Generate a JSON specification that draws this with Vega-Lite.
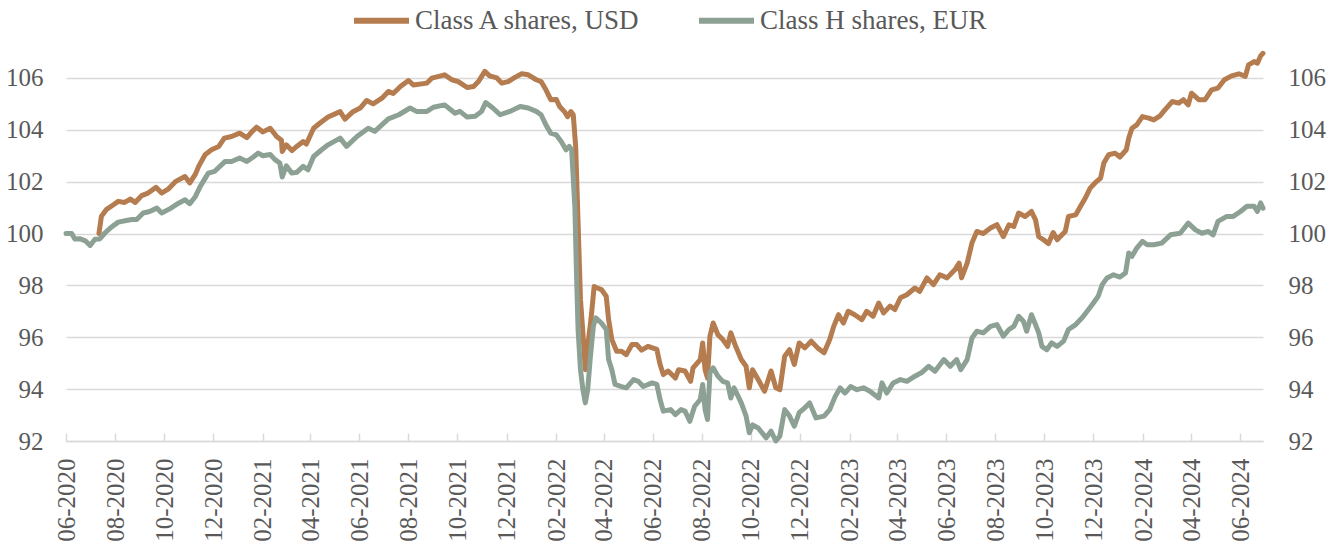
{
  "$schema": "https://vega.github.io/schema/vega-lite/v6.json",
  "width": 1197,
  "height": 389,
  "autosize": {"type": "none"},
  "padding": {"left": 66, "top": 52, "right": 78, "bottom": 110},
  "background": "white",
  "config": {
    "view": {"stroke": null},
    "font": "Liberation Serif",
    "axis": {"labelFont": "Liberation Serif", "labelColor": "#595959", "title": null},
    "legend": {"labelFont": "Liberation Serif"}
  },
  "data": {"values": [
    {"d":"2020-07-12","s":"Class A shares, USD","v":100.0},
    {"d":"2020-07-15","s":"Class A shares, USD","v":100.66},
    {"d":"2020-07-21","s":"Class A shares, USD","v":100.92},
    {"d":"2020-07-30","s":"Class A shares, USD","v":101.11},
    {"d":"2020-08-05","s":"Class A shares, USD","v":101.24},
    {"d":"2020-08-13","s":"Class A shares, USD","v":101.2},
    {"d":"2020-08-20","s":"Class A shares, USD","v":101.33},
    {"d":"2020-08-26","s":"Class A shares, USD","v":101.2},
    {"d":"2020-09-03","s":"Class A shares, USD","v":101.46},
    {"d":"2020-09-11","s":"Class A shares, USD","v":101.56},
    {"d":"2020-09-21","s":"Class A shares, USD","v":101.78},
    {"d":"2020-09-28","s":"Class A shares, USD","v":101.56},
    {"d":"2020-10-06","s":"Class A shares, USD","v":101.71},
    {"d":"2020-10-15","s":"Class A shares, USD","v":102.0},
    {"d":"2020-10-27","s":"Class A shares, USD","v":102.2},
    {"d":"2020-11-02","s":"Class A shares, USD","v":101.95},
    {"d":"2020-11-09","s":"Class A shares, USD","v":102.29},
    {"d":"2020-11-13","s":"Class A shares, USD","v":102.59},
    {"d":"2020-11-21","s":"Class A shares, USD","v":103.04},
    {"d":"2020-11-29","s":"Class A shares, USD","v":103.23},
    {"d":"2020-12-08","s":"Class A shares, USD","v":103.36},
    {"d":"2020-12-15","s":"Class A shares, USD","v":103.68},
    {"d":"2020-12-24","s":"Class A shares, USD","v":103.74},
    {"d":"2021-01-03","s":"Class A shares, USD","v":103.87},
    {"d":"2021-01-12","s":"Class A shares, USD","v":103.7},
    {"d":"2021-01-18","s":"Class A shares, USD","v":103.92},
    {"d":"2021-01-24","s":"Class A shares, USD","v":104.1},
    {"d":"2021-02-01","s":"Class A shares, USD","v":103.92},
    {"d":"2021-02-10","s":"Class A shares, USD","v":104.06},
    {"d":"2021-02-18","s":"Class A shares, USD","v":103.74},
    {"d":"2021-02-24","s":"Class A shares, USD","v":103.6},
    {"d":"2021-02-25","s":"Class A shares, USD","v":103.16},
    {"d":"2021-03-02","s":"Class A shares, USD","v":103.42},
    {"d":"2021-03-09","s":"Class A shares, USD","v":103.2},
    {"d":"2021-03-15","s":"Class A shares, USD","v":103.36},
    {"d":"2021-03-23","s":"Class A shares, USD","v":103.55},
    {"d":"2021-03-27","s":"Class A shares, USD","v":103.45},
    {"d":"2021-04-05","s":"Class A shares, USD","v":104.06},
    {"d":"2021-04-13","s":"Class A shares, USD","v":104.26},
    {"d":"2021-04-23","s":"Class A shares, USD","v":104.49},
    {"d":"2021-05-08","s":"Class A shares, USD","v":104.7},
    {"d":"2021-05-14","s":"Class A shares, USD","v":104.41},
    {"d":"2021-05-24","s":"Class A shares, USD","v":104.7},
    {"d":"2021-06-02","s":"Class A shares, USD","v":104.84},
    {"d":"2021-06-10","s":"Class A shares, USD","v":105.13},
    {"d":"2021-06-18","s":"Class A shares, USD","v":105.0},
    {"d":"2021-06-29","s":"Class A shares, USD","v":105.22},
    {"d":"2021-07-07","s":"Class A shares, USD","v":105.48},
    {"d":"2021-07-13","s":"Class A shares, USD","v":105.4},
    {"d":"2021-07-22","s":"Class A shares, USD","v":105.67},
    {"d":"2021-08-01","s":"Class A shares, USD","v":105.9},
    {"d":"2021-08-07","s":"Class A shares, USD","v":105.73},
    {"d":"2021-08-24","s":"Class A shares, USD","v":105.8},
    {"d":"2021-08-30","s":"Class A shares, USD","v":105.99},
    {"d":"2021-09-15","s":"Class A shares, USD","v":106.12},
    {"d":"2021-09-24","s":"Class A shares, USD","v":105.93},
    {"d":"2021-10-02","s":"Class A shares, USD","v":105.86},
    {"d":"2021-10-13","s":"Class A shares, USD","v":105.63},
    {"d":"2021-10-21","s":"Class A shares, USD","v":105.67},
    {"d":"2021-10-27","s":"Class A shares, USD","v":105.86},
    {"d":"2021-11-04","s":"Class A shares, USD","v":106.25},
    {"d":"2021-11-10","s":"Class A shares, USD","v":106.08},
    {"d":"2021-11-19","s":"Class A shares, USD","v":106.0},
    {"d":"2021-11-25","s":"Class A shares, USD","v":105.8},
    {"d":"2021-12-03","s":"Class A shares, USD","v":105.86},
    {"d":"2021-12-12","s":"Class A shares, USD","v":106.03},
    {"d":"2021-12-20","s":"Class A shares, USD","v":106.16},
    {"d":"2021-12-28","s":"Class A shares, USD","v":106.12},
    {"d":"2022-01-07","s":"Class A shares, USD","v":105.93},
    {"d":"2022-01-13","s":"Class A shares, USD","v":105.86},
    {"d":"2022-01-19","s":"Class A shares, USD","v":105.54},
    {"d":"2022-01-25","s":"Class A shares, USD","v":105.16},
    {"d":"2022-02-01","s":"Class A shares, USD","v":105.17},
    {"d":"2022-02-05","s":"Class A shares, USD","v":104.9},
    {"d":"2022-02-11","s":"Class A shares, USD","v":104.7},
    {"d":"2022-02-15","s":"Class A shares, USD","v":104.51},
    {"d":"2022-02-19","s":"Class A shares, USD","v":104.7},
    {"d":"2022-02-22","s":"Class A shares, USD","v":104.58},
    {"d":"2022-02-25","s":"Class A shares, USD","v":103.36},
    {"d":"2022-02-28","s":"Class A shares, USD","v":100.4},
    {"d":"2022-03-03","s":"Class A shares, USD","v":97.45},
    {"d":"2022-03-06","s":"Class A shares, USD","v":96.17},
    {"d":"2022-03-09","s":"Class A shares, USD","v":94.75},
    {"d":"2022-03-12","s":"Class A shares, USD","v":95.65},
    {"d":"2022-03-16","s":"Class A shares, USD","v":96.68},
    {"d":"2022-03-20","s":"Class A shares, USD","v":97.96},
    {"d":"2022-03-24","s":"Class A shares, USD","v":97.9},
    {"d":"2022-03-29","s":"Class A shares, USD","v":97.84},
    {"d":"2022-04-04","s":"Class A shares, USD","v":97.58},
    {"d":"2022-04-07","s":"Class A shares, USD","v":96.68},
    {"d":"2022-04-11","s":"Class A shares, USD","v":95.91},
    {"d":"2022-04-17","s":"Class A shares, USD","v":95.46},
    {"d":"2022-04-23","s":"Class A shares, USD","v":95.46},
    {"d":"2022-04-29","s":"Class A shares, USD","v":95.33},
    {"d":"2022-05-06","s":"Class A shares, USD","v":95.72},
    {"d":"2022-05-12","s":"Class A shares, USD","v":95.72},
    {"d":"2022-05-18","s":"Class A shares, USD","v":95.5},
    {"d":"2022-05-26","s":"Class A shares, USD","v":95.65},
    {"d":"2022-06-06","s":"Class A shares, USD","v":95.53},
    {"d":"2022-06-10","s":"Class A shares, USD","v":94.95},
    {"d":"2022-06-14","s":"Class A shares, USD","v":94.56},
    {"d":"2022-06-20","s":"Class A shares, USD","v":94.7},
    {"d":"2022-06-29","s":"Class A shares, USD","v":94.43},
    {"d":"2022-07-03","s":"Class A shares, USD","v":94.75},
    {"d":"2022-07-11","s":"Class A shares, USD","v":94.7},
    {"d":"2022-07-18","s":"Class A shares, USD","v":94.3},
    {"d":"2022-07-21","s":"Class A shares, USD","v":94.82},
    {"d":"2022-07-30","s":"Class A shares, USD","v":95.14},
    {"d":"2022-08-02","s":"Class A shares, USD","v":95.78},
    {"d":"2022-08-05","s":"Class A shares, USD","v":94.75},
    {"d":"2022-08-08","s":"Class A shares, USD","v":94.43},
    {"d":"2022-08-11","s":"Class A shares, USD","v":96.04},
    {"d":"2022-08-15","s":"Class A shares, USD","v":96.55},
    {"d":"2022-08-21","s":"Class A shares, USD","v":96.1},
    {"d":"2022-08-27","s":"Class A shares, USD","v":95.91},
    {"d":"2022-09-02","s":"Class A shares, USD","v":95.65},
    {"d":"2022-09-06","s":"Class A shares, USD","v":96.17},
    {"d":"2022-09-12","s":"Class A shares, USD","v":95.65},
    {"d":"2022-09-19","s":"Class A shares, USD","v":95.14},
    {"d":"2022-09-25","s":"Class A shares, USD","v":94.88},
    {"d":"2022-09-29","s":"Class A shares, USD","v":94.05},
    {"d":"2022-10-03","s":"Class A shares, USD","v":94.75},
    {"d":"2022-10-10","s":"Class A shares, USD","v":94.37},
    {"d":"2022-10-18","s":"Class A shares, USD","v":93.92},
    {"d":"2022-10-26","s":"Class A shares, USD","v":94.7},
    {"d":"2022-11-01","s":"Class A shares, USD","v":94.05},
    {"d":"2022-11-06","s":"Class A shares, USD","v":93.98},
    {"d":"2022-11-12","s":"Class A shares, USD","v":95.27},
    {"d":"2022-11-18","s":"Class A shares, USD","v":95.52},
    {"d":"2022-11-24","s":"Class A shares, USD","v":94.95},
    {"d":"2022-11-30","s":"Class A shares, USD","v":95.78},
    {"d":"2022-12-07","s":"Class A shares, USD","v":95.59},
    {"d":"2022-12-15","s":"Class A shares, USD","v":95.85},
    {"d":"2022-12-23","s":"Class A shares, USD","v":95.59},
    {"d":"2022-12-31","s":"Class A shares, USD","v":95.4},
    {"d":"2023-01-07","s":"Class A shares, USD","v":95.91},
    {"d":"2023-01-12","s":"Class A shares, USD","v":96.42},
    {"d":"2023-01-18","s":"Class A shares, USD","v":96.87},
    {"d":"2023-01-24","s":"Class A shares, USD","v":96.55},
    {"d":"2023-01-30","s":"Class A shares, USD","v":97.0},
    {"d":"2023-02-07","s":"Class A shares, USD","v":96.87},
    {"d":"2023-02-16","s":"Class A shares, USD","v":96.68},
    {"d":"2023-02-22","s":"Class A shares, USD","v":97.0},
    {"d":"2023-03-02","s":"Class A shares, USD","v":96.81},
    {"d":"2023-03-09","s":"Class A shares, USD","v":97.32},
    {"d":"2023-03-15","s":"Class A shares, USD","v":96.94},
    {"d":"2023-03-23","s":"Class A shares, USD","v":97.2},
    {"d":"2023-03-29","s":"Class A shares, USD","v":97.07},
    {"d":"2023-04-05","s":"Class A shares, USD","v":97.52},
    {"d":"2023-04-13","s":"Class A shares, USD","v":97.64},
    {"d":"2023-04-23","s":"Class A shares, USD","v":97.9},
    {"d":"2023-04-29","s":"Class A shares, USD","v":97.77},
    {"d":"2023-05-08","s":"Class A shares, USD","v":98.29},
    {"d":"2023-05-16","s":"Class A shares, USD","v":98.03},
    {"d":"2023-05-24","s":"Class A shares, USD","v":98.41},
    {"d":"2023-06-02","s":"Class A shares, USD","v":98.29},
    {"d":"2023-06-12","s":"Class A shares, USD","v":98.61},
    {"d":"2023-06-17","s":"Class A shares, USD","v":98.86},
    {"d":"2023-06-20","s":"Class A shares, USD","v":98.29},
    {"d":"2023-06-27","s":"Class A shares, USD","v":98.86},
    {"d":"2023-07-03","s":"Class A shares, USD","v":99.64},
    {"d":"2023-07-09","s":"Class A shares, USD","v":100.08},
    {"d":"2023-07-17","s":"Class A shares, USD","v":100.0},
    {"d":"2023-07-26","s":"Class A shares, USD","v":100.21},
    {"d":"2023-08-03","s":"Class A shares, USD","v":100.34},
    {"d":"2023-08-11","s":"Class A shares, USD","v":99.88},
    {"d":"2023-08-18","s":"Class A shares, USD","v":100.34},
    {"d":"2023-08-24","s":"Class A shares, USD","v":100.27},
    {"d":"2023-08-30","s":"Class A shares, USD","v":100.79},
    {"d":"2023-09-07","s":"Class A shares, USD","v":100.66},
    {"d":"2023-09-15","s":"Class A shares, USD","v":100.85},
    {"d":"2023-09-20","s":"Class A shares, USD","v":100.53},
    {"d":"2023-09-24","s":"Class A shares, USD","v":99.88},
    {"d":"2023-09-30","s":"Class A shares, USD","v":99.76},
    {"d":"2023-10-06","s":"Class A shares, USD","v":99.61},
    {"d":"2023-10-12","s":"Class A shares, USD","v":100.04},
    {"d":"2023-10-17","s":"Class A shares, USD","v":99.76},
    {"d":"2023-10-23","s":"Class A shares, USD","v":99.95},
    {"d":"2023-10-27","s":"Class A shares, USD","v":100.08},
    {"d":"2023-10-31","s":"Class A shares, USD","v":100.66},
    {"d":"2023-11-09","s":"Class A shares, USD","v":100.72},
    {"d":"2023-11-15","s":"Class A shares, USD","v":101.05},
    {"d":"2023-11-21","s":"Class A shares, USD","v":101.37},
    {"d":"2023-11-27","s":"Class A shares, USD","v":101.75},
    {"d":"2023-12-03","s":"Class A shares, USD","v":101.95},
    {"d":"2023-12-10","s":"Class A shares, USD","v":102.14},
    {"d":"2023-12-14","s":"Class A shares, USD","v":102.72},
    {"d":"2023-12-20","s":"Class A shares, USD","v":103.04},
    {"d":"2023-12-28","s":"Class A shares, USD","v":103.1},
    {"d":"2024-01-03","s":"Class A shares, USD","v":102.95},
    {"d":"2024-01-11","s":"Class A shares, USD","v":103.23},
    {"d":"2024-01-14","s":"Class A shares, USD","v":103.68},
    {"d":"2024-01-18","s":"Class A shares, USD","v":104.06},
    {"d":"2024-01-24","s":"Class A shares, USD","v":104.19},
    {"d":"2024-01-31","s":"Class A shares, USD","v":104.51},
    {"d":"2024-02-08","s":"Class A shares, USD","v":104.45},
    {"d":"2024-02-14","s":"Class A shares, USD","v":104.38},
    {"d":"2024-02-22","s":"Class A shares, USD","v":104.54},
    {"d":"2024-02-28","s":"Class A shares, USD","v":104.77},
    {"d":"2024-03-08","s":"Class A shares, USD","v":105.09},
    {"d":"2024-03-16","s":"Class A shares, USD","v":105.03},
    {"d":"2024-03-22","s":"Class A shares, USD","v":105.16},
    {"d":"2024-03-28","s":"Class A shares, USD","v":104.96},
    {"d":"2024-04-01","s":"Class A shares, USD","v":105.41},
    {"d":"2024-04-10","s":"Class A shares, USD","v":105.16},
    {"d":"2024-04-18","s":"Class A shares, USD","v":105.16},
    {"d":"2024-04-26","s":"Class A shares, USD","v":105.54},
    {"d":"2024-05-04","s":"Class A shares, USD","v":105.61},
    {"d":"2024-05-12","s":"Class A shares, USD","v":105.93},
    {"d":"2024-05-21","s":"Class A shares, USD","v":106.08},
    {"d":"2024-05-30","s":"Class A shares, USD","v":106.16},
    {"d":"2024-06-07","s":"Class A shares, USD","v":106.06},
    {"d":"2024-06-11","s":"Class A shares, USD","v":106.5},
    {"d":"2024-06-18","s":"Class A shares, USD","v":106.63},
    {"d":"2024-06-22","s":"Class A shares, USD","v":106.57},
    {"d":"2024-06-26","s":"Class A shares, USD","v":106.85},
    {"d":"2024-06-29","s":"Class A shares, USD","v":106.95},
    {"d":"2020-06-01","s":"Class H shares, EUR","v":100.0},
    {"d":"2020-06-08","s":"Class H shares, EUR","v":100.0},
    {"d":"2020-06-12","s":"Class H shares, EUR","v":99.79},
    {"d":"2020-06-18","s":"Class H shares, EUR","v":99.8},
    {"d":"2020-06-25","s":"Class H shares, EUR","v":99.72},
    {"d":"2020-07-01","s":"Class H shares, EUR","v":99.54},
    {"d":"2020-07-07","s":"Class H shares, EUR","v":99.78},
    {"d":"2020-07-13","s":"Class H shares, EUR","v":99.79},
    {"d":"2020-07-20","s":"Class H shares, EUR","v":100.04},
    {"d":"2020-07-26","s":"Class H shares, EUR","v":100.21},
    {"d":"2020-08-05","s":"Class H shares, EUR","v":100.44},
    {"d":"2020-08-15","s":"Class H shares, EUR","v":100.5},
    {"d":"2020-08-22","s":"Class H shares, EUR","v":100.54},
    {"d":"2020-08-28","s":"Class H shares, EUR","v":100.54},
    {"d":"2020-09-05","s":"Class H shares, EUR","v":100.79},
    {"d":"2020-09-13","s":"Class H shares, EUR","v":100.85},
    {"d":"2020-09-22","s":"Class H shares, EUR","v":100.98},
    {"d":"2020-09-28","s":"Class H shares, EUR","v":100.79},
    {"d":"2020-10-08","s":"Class H shares, EUR","v":100.95},
    {"d":"2020-10-19","s":"Class H shares, EUR","v":101.17},
    {"d":"2020-10-27","s":"Class H shares, EUR","v":101.3},
    {"d":"2020-11-02","s":"Class H shares, EUR","v":101.15},
    {"d":"2020-11-09","s":"Class H shares, EUR","v":101.43},
    {"d":"2020-11-15","s":"Class H shares, EUR","v":101.82},
    {"d":"2020-11-25","s":"Class H shares, EUR","v":102.33},
    {"d":"2020-12-03","s":"Class H shares, EUR","v":102.4},
    {"d":"2020-12-16","s":"Class H shares, EUR","v":102.78},
    {"d":"2020-12-24","s":"Class H shares, EUR","v":102.78},
    {"d":"2021-01-03","s":"Class H shares, EUR","v":102.91},
    {"d":"2021-01-12","s":"Class H shares, EUR","v":102.78},
    {"d":"2021-01-20","s":"Class H shares, EUR","v":102.95},
    {"d":"2021-01-26","s":"Class H shares, EUR","v":103.1},
    {"d":"2021-02-01","s":"Class H shares, EUR","v":103.0},
    {"d":"2021-02-10","s":"Class H shares, EUR","v":103.05},
    {"d":"2021-02-16","s":"Class H shares, EUR","v":102.85},
    {"d":"2021-02-22","s":"Class H shares, EUR","v":102.72},
    {"d":"2021-02-25","s":"Class H shares, EUR","v":102.18},
    {"d":"2021-03-02","s":"Class H shares, EUR","v":102.61},
    {"d":"2021-03-09","s":"Class H shares, EUR","v":102.33},
    {"d":"2021-03-15","s":"Class H shares, EUR","v":102.36},
    {"d":"2021-03-23","s":"Class H shares, EUR","v":102.59},
    {"d":"2021-03-29","s":"Class H shares, EUR","v":102.46},
    {"d":"2021-04-05","s":"Class H shares, EUR","v":102.97},
    {"d":"2021-04-15","s":"Class H shares, EUR","v":103.23},
    {"d":"2021-04-23","s":"Class H shares, EUR","v":103.42},
    {"d":"2021-05-08","s":"Class H shares, EUR","v":103.68},
    {"d":"2021-05-16","s":"Class H shares, EUR","v":103.36},
    {"d":"2021-05-29","s":"Class H shares, EUR","v":103.74},
    {"d":"2021-06-12","s":"Class H shares, EUR","v":104.06},
    {"d":"2021-06-20","s":"Class H shares, EUR","v":103.94},
    {"d":"2021-07-07","s":"Class H shares, EUR","v":104.42},
    {"d":"2021-07-20","s":"Class H shares, EUR","v":104.58},
    {"d":"2021-08-03","s":"Class H shares, EUR","v":104.84},
    {"d":"2021-08-11","s":"Class H shares, EUR","v":104.71},
    {"d":"2021-08-24","s":"Class H shares, EUR","v":104.71},
    {"d":"2021-09-01","s":"Class H shares, EUR","v":104.87},
    {"d":"2021-09-15","s":"Class H shares, EUR","v":104.96},
    {"d":"2021-09-28","s":"Class H shares, EUR","v":104.64},
    {"d":"2021-10-04","s":"Class H shares, EUR","v":104.71},
    {"d":"2021-10-13","s":"Class H shares, EUR","v":104.49},
    {"d":"2021-10-23","s":"Class H shares, EUR","v":104.52},
    {"d":"2021-10-31","s":"Class H shares, EUR","v":104.71},
    {"d":"2021-11-05","s":"Class H shares, EUR","v":105.05},
    {"d":"2021-11-14","s":"Class H shares, EUR","v":104.84},
    {"d":"2021-11-23","s":"Class H shares, EUR","v":104.58},
    {"d":"2021-12-05","s":"Class H shares, EUR","v":104.71},
    {"d":"2021-12-18","s":"Class H shares, EUR","v":104.9},
    {"d":"2021-12-28","s":"Class H shares, EUR","v":104.84},
    {"d":"2022-01-07","s":"Class H shares, EUR","v":104.71},
    {"d":"2022-01-13","s":"Class H shares, EUR","v":104.58},
    {"d":"2022-01-19","s":"Class H shares, EUR","v":104.19},
    {"d":"2022-01-25","s":"Class H shares, EUR","v":103.87},
    {"d":"2022-02-01","s":"Class H shares, EUR","v":103.8},
    {"d":"2022-02-07","s":"Class H shares, EUR","v":103.55},
    {"d":"2022-02-13","s":"Class H shares, EUR","v":103.23},
    {"d":"2022-02-17","s":"Class H shares, EUR","v":103.36},
    {"d":"2022-02-20","s":"Class H shares, EUR","v":103.23},
    {"d":"2022-02-24","s":"Class H shares, EUR","v":101.04},
    {"d":"2022-02-26","s":"Class H shares, EUR","v":98.48},
    {"d":"2022-02-28","s":"Class H shares, EUR","v":96.3},
    {"d":"2022-03-03","s":"Class H shares, EUR","v":94.75},
    {"d":"2022-03-06","s":"Class H shares, EUR","v":93.98},
    {"d":"2022-03-09","s":"Class H shares, EUR","v":93.47},
    {"d":"2022-03-12","s":"Class H shares, EUR","v":93.98},
    {"d":"2022-03-15","s":"Class H shares, EUR","v":95.14},
    {"d":"2022-03-19","s":"Class H shares, EUR","v":96.42},
    {"d":"2022-03-22","s":"Class H shares, EUR","v":96.75},
    {"d":"2022-03-29","s":"Class H shares, EUR","v":96.55},
    {"d":"2022-04-04","s":"Class H shares, EUR","v":96.3},
    {"d":"2022-04-07","s":"Class H shares, EUR","v":95.14},
    {"d":"2022-04-11","s":"Class H shares, EUR","v":94.75},
    {"d":"2022-04-15","s":"Class H shares, EUR","v":94.18},
    {"d":"2022-04-23","s":"Class H shares, EUR","v":94.1},
    {"d":"2022-04-29","s":"Class H shares, EUR","v":94.05},
    {"d":"2022-05-08","s":"Class H shares, EUR","v":94.37},
    {"d":"2022-05-14","s":"Class H shares, EUR","v":94.3},
    {"d":"2022-05-20","s":"Class H shares, EUR","v":94.1},
    {"d":"2022-05-31","s":"Class H shares, EUR","v":94.24},
    {"d":"2022-06-06","s":"Class H shares, EUR","v":94.18},
    {"d":"2022-06-10","s":"Class H shares, EUR","v":93.6},
    {"d":"2022-06-14","s":"Class H shares, EUR","v":93.15},
    {"d":"2022-06-23","s":"Class H shares, EUR","v":93.21},
    {"d":"2022-06-29","s":"Class H shares, EUR","v":93.02},
    {"d":"2022-07-06","s":"Class H shares, EUR","v":93.21},
    {"d":"2022-07-11","s":"Class H shares, EUR","v":93.15},
    {"d":"2022-07-17","s":"Class H shares, EUR","v":92.76},
    {"d":"2022-07-23","s":"Class H shares, EUR","v":93.34},
    {"d":"2022-07-30","s":"Class H shares, EUR","v":93.6},
    {"d":"2022-08-02","s":"Class H shares, EUR","v":94.18},
    {"d":"2022-08-05","s":"Class H shares, EUR","v":93.21},
    {"d":"2022-08-08","s":"Class H shares, EUR","v":92.83},
    {"d":"2022-08-11","s":"Class H shares, EUR","v":94.63},
    {"d":"2022-08-15","s":"Class H shares, EUR","v":94.82},
    {"d":"2022-08-21","s":"Class H shares, EUR","v":94.5},
    {"d":"2022-08-27","s":"Class H shares, EUR","v":94.3},
    {"d":"2022-09-02","s":"Class H shares, EUR","v":94.24},
    {"d":"2022-09-06","s":"Class H shares, EUR","v":93.66},
    {"d":"2022-09-10","s":"Class H shares, EUR","v":94.05},
    {"d":"2022-09-19","s":"Class H shares, EUR","v":93.47},
    {"d":"2022-09-25","s":"Class H shares, EUR","v":92.96},
    {"d":"2022-09-29","s":"Class H shares, EUR","v":92.32},
    {"d":"2022-10-03","s":"Class H shares, EUR","v":92.62},
    {"d":"2022-10-10","s":"Class H shares, EUR","v":92.5},
    {"d":"2022-10-20","s":"Class H shares, EUR","v":92.12},
    {"d":"2022-10-26","s":"Class H shares, EUR","v":92.38},
    {"d":"2022-11-01","s":"Class H shares, EUR","v":92.0},
    {"d":"2022-11-06","s":"Class H shares, EUR","v":92.19},
    {"d":"2022-11-12","s":"Class H shares, EUR","v":93.21},
    {"d":"2022-11-18","s":"Class H shares, EUR","v":92.96},
    {"d":"2022-11-24","s":"Class H shares, EUR","v":92.57},
    {"d":"2022-11-30","s":"Class H shares, EUR","v":93.09},
    {"d":"2022-12-07","s":"Class H shares, EUR","v":93.28},
    {"d":"2022-12-13","s":"Class H shares, EUR","v":93.47},
    {"d":"2022-12-21","s":"Class H shares, EUR","v":92.89},
    {"d":"2022-12-31","s":"Class H shares, EUR","v":92.96},
    {"d":"2023-01-07","s":"Class H shares, EUR","v":93.21},
    {"d":"2023-01-14","s":"Class H shares, EUR","v":93.73},
    {"d":"2023-01-20","s":"Class H shares, EUR","v":94.05},
    {"d":"2023-01-26","s":"Class H shares, EUR","v":93.85},
    {"d":"2023-02-02","s":"Class H shares, EUR","v":94.1},
    {"d":"2023-02-10","s":"Class H shares, EUR","v":93.98},
    {"d":"2023-02-18","s":"Class H shares, EUR","v":94.05},
    {"d":"2023-02-26","s":"Class H shares, EUR","v":93.92},
    {"d":"2023-03-09","s":"Class H shares, EUR","v":93.66},
    {"d":"2023-03-13","s":"Class H shares, EUR","v":94.24},
    {"d":"2023-03-19","s":"Class H shares, EUR","v":93.85},
    {"d":"2023-03-27","s":"Class H shares, EUR","v":94.24},
    {"d":"2023-04-05","s":"Class H shares, EUR","v":94.37},
    {"d":"2023-04-13","s":"Class H shares, EUR","v":94.3},
    {"d":"2023-04-23","s":"Class H shares, EUR","v":94.5},
    {"d":"2023-05-01","s":"Class H shares, EUR","v":94.63},
    {"d":"2023-05-10","s":"Class H shares, EUR","v":94.88},
    {"d":"2023-05-18","s":"Class H shares, EUR","v":94.69},
    {"d":"2023-05-29","s":"Class H shares, EUR","v":95.14},
    {"d":"2023-06-06","s":"Class H shares, EUR","v":94.88},
    {"d":"2023-06-14","s":"Class H shares, EUR","v":95.14},
    {"d":"2023-06-19","s":"Class H shares, EUR","v":94.75},
    {"d":"2023-06-27","s":"Class H shares, EUR","v":95.14},
    {"d":"2023-07-03","s":"Class H shares, EUR","v":95.97},
    {"d":"2023-07-09","s":"Class H shares, EUR","v":96.23},
    {"d":"2023-07-17","s":"Class H shares, EUR","v":96.17},
    {"d":"2023-07-26","s":"Class H shares, EUR","v":96.42},
    {"d":"2023-08-03","s":"Class H shares, EUR","v":96.49},
    {"d":"2023-08-11","s":"Class H shares, EUR","v":96.04},
    {"d":"2023-08-18","s":"Class H shares, EUR","v":96.3},
    {"d":"2023-08-24","s":"Class H shares, EUR","v":96.42},
    {"d":"2023-08-30","s":"Class H shares, EUR","v":96.81},
    {"d":"2023-09-05","s":"Class H shares, EUR","v":96.62},
    {"d":"2023-09-09","s":"Class H shares, EUR","v":96.23},
    {"d":"2023-09-15","s":"Class H shares, EUR","v":96.87},
    {"d":"2023-09-20","s":"Class H shares, EUR","v":96.49},
    {"d":"2023-09-24","s":"Class H shares, EUR","v":96.17},
    {"d":"2023-09-28","s":"Class H shares, EUR","v":95.65},
    {"d":"2023-10-04","s":"Class H shares, EUR","v":95.52},
    {"d":"2023-10-10","s":"Class H shares, EUR","v":95.78},
    {"d":"2023-10-17","s":"Class H shares, EUR","v":95.65},
    {"d":"2023-10-25","s":"Class H shares, EUR","v":95.85},
    {"d":"2023-10-31","s":"Class H shares, EUR","v":96.3},
    {"d":"2023-11-09","s":"Class H shares, EUR","v":96.49},
    {"d":"2023-11-17","s":"Class H shares, EUR","v":96.75},
    {"d":"2023-11-25","s":"Class H shares, EUR","v":97.07},
    {"d":"2023-12-01","s":"Class H shares, EUR","v":97.32},
    {"d":"2023-12-07","s":"Class H shares, EUR","v":97.58},
    {"d":"2023-12-12","s":"Class H shares, EUR","v":98.03},
    {"d":"2023-12-18","s":"Class H shares, EUR","v":98.29},
    {"d":"2023-12-26","s":"Class H shares, EUR","v":98.41},
    {"d":"2024-01-03","s":"Class H shares, EUR","v":98.32},
    {"d":"2024-01-10","s":"Class H shares, EUR","v":98.48},
    {"d":"2024-01-14","s":"Class H shares, EUR","v":99.25},
    {"d":"2024-01-18","s":"Class H shares, EUR","v":99.12},
    {"d":"2024-01-24","s":"Class H shares, EUR","v":99.44},
    {"d":"2024-01-31","s":"Class H shares, EUR","v":99.7},
    {"d":"2024-02-06","s":"Class H shares, EUR","v":99.57},
    {"d":"2024-02-14","s":"Class H shares, EUR","v":99.57},
    {"d":"2024-02-24","s":"Class H shares, EUR","v":99.63},
    {"d":"2024-03-06","s":"Class H shares, EUR","v":99.95},
    {"d":"2024-03-18","s":"Class H shares, EUR","v":100.01},
    {"d":"2024-03-28","s":"Class H shares, EUR","v":100.4},
    {"d":"2024-04-06","s":"Class H shares, EUR","v":100.14},
    {"d":"2024-04-14","s":"Class H shares, EUR","v":100.01},
    {"d":"2024-04-22","s":"Class H shares, EUR","v":100.08},
    {"d":"2024-04-28","s":"Class H shares, EUR","v":99.95},
    {"d":"2024-05-04","s":"Class H shares, EUR","v":100.47},
    {"d":"2024-05-15","s":"Class H shares, EUR","v":100.66},
    {"d":"2024-05-23","s":"Class H shares, EUR","v":100.66},
    {"d":"2024-06-01","s":"Class H shares, EUR","v":100.85},
    {"d":"2024-06-09","s":"Class H shares, EUR","v":101.05},
    {"d":"2024-06-18","s":"Class H shares, EUR","v":101.05},
    {"d":"2024-06-22","s":"Class H shares, EUR","v":100.85},
    {"d":"2024-06-26","s":"Class H shares, EUR","v":101.18},
    {"d":"2024-06-29","s":"Class H shares, EUR","v":100.98}
  ]},
  "encoding": {
    "x": {
      "field": "d", "type": "temporal",
      "scale": {"type": "utc", "domain": [{"year": 2020, "month": 6, "date": 1, "utc": true}, {"year": 2024, "month": 6, "date": 29, "utc": true}]},
      "axis": {
        "values": [
          {"year": 2020, "month": 6, "date": 1, "utc": true}, {"year": 2020, "month": 8, "date": 1, "utc": true},
          {"year": 2020, "month": 10, "date": 1, "utc": true}, {"year": 2020, "month": 12, "date": 1, "utc": true},
          {"year": 2021, "month": 2, "date": 1, "utc": true}, {"year": 2021, "month": 4, "date": 1, "utc": true},
          {"year": 2021, "month": 6, "date": 1, "utc": true}, {"year": 2021, "month": 8, "date": 1, "utc": true},
          {"year": 2021, "month": 10, "date": 1, "utc": true}, {"year": 2021, "month": 12, "date": 1, "utc": true},
          {"year": 2022, "month": 2, "date": 1, "utc": true}, {"year": 2022, "month": 4, "date": 1, "utc": true},
          {"year": 2022, "month": 6, "date": 1, "utc": true}, {"year": 2022, "month": 8, "date": 1, "utc": true},
          {"year": 2022, "month": 10, "date": 1, "utc": true}, {"year": 2022, "month": 12, "date": 1, "utc": true},
          {"year": 2023, "month": 2, "date": 1, "utc": true}, {"year": 2023, "month": 4, "date": 1, "utc": true},
          {"year": 2023, "month": 6, "date": 1, "utc": true}, {"year": 2023, "month": 8, "date": 1, "utc": true},
          {"year": 2023, "month": 10, "date": 1, "utc": true}, {"year": 2023, "month": 12, "date": 1, "utc": true},
          {"year": 2024, "month": 2, "date": 1, "utc": true}, {"year": 2024, "month": 4, "date": 1, "utc": true},
          {"year": 2024, "month": 6, "date": 1, "utc": true}
        ],
        "format": "%m-%Y",
        "labelAngle": -90, "labelAlign": "right", "labelBaseline": "middle",
        "labelFontSize": 25, "labelPadding": 25, "labelOverlap": false, "labelFlush": false,
        "grid": false, "domainColor": "#D9D9D9", "domainWidth": 1.5,
        "tickColor": "#D9D9D9", "tickWidth": 1.5, "tickSize": -8
      }
    }
  },
  "layer": [
    {
      "mark": {"type": "line", "strokeWidth": 5, "strokeJoin": "round", "strokeCap": "round"},
      "encoding": {
        "y": {
          "field": "v", "type": "quantitative",
          "scale": {"domain": [92, 107], "nice": false, "zero": false},
          "axis": {"orient": "left", "values": [92, 94, 96, 98, 100, 102, 104, 106], "grid": true, "gridColor": "#D9D9D9", "gridWidth": 1.5,
                   "domain": false, "ticks": false, "labelFontSize": 25, "labelPadding": 23}
        },
        "color": {
          "field": "s", "type": "nominal",
          "scale": {"domain": ["Class A shares, USD", "Class H shares, EUR"], "range": ["#B47C4F", "#8CA194"]},
          "legend": {"title": null, "orient": "none", "legendX": 285, "legendY": -62, "direction": "horizontal",
                     "symbolType": "stroke", "symbolSize": 3025, "symbolStrokeWidth": 6, "labelFontSize": 27,
                     "labelColor": "#595959", "labelOffset": 3, "labelLimit": 0, "columnPadding": 45, "padding": 0}
        }
      }
    },
    {
      "mark": {"type": "line", "strokeOpacity": 0},
      "encoding": {
        "y": {
          "field": "v", "type": "quantitative",
          "scale": {"domain": [92, 107], "nice": false, "zero": false},
          "axis": {"orient": "right", "values": [92, 94, 96, 98, 100, 102, 104, 106], "grid": false,
                   "domain": false, "ticks": false, "labelFontSize": 25, "labelPadding": 25}
        },
        "detail": {"field": "s", "type": "nominal"}
      }
    }
  ],
  "resolve": {"scale": {"y": "independent"}, "axis": {"y": "independent"}}
}
